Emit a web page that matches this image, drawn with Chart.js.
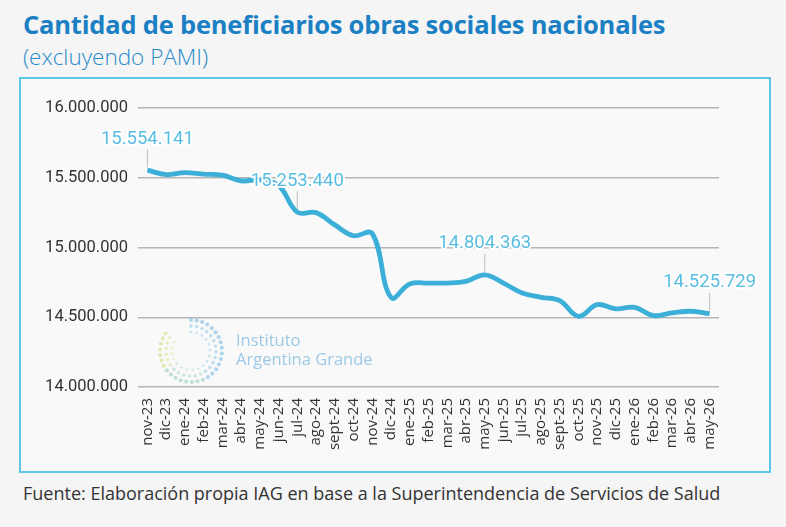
<!DOCTYPE html>
<html>
<head>
<meta charset="utf-8">
<script src="https://cdn.jsdelivr.net/npm/chart.js@4.4.1/dist/chart.umd.min.js"></script>
<style>
  html, body { margin: 0; padding: 0; background: #f5f5f5; }
  body { width: 786px; height: 527px; position: relative; overflow: hidden; font-family: "Open Sans", sans-serif; }
  #title { position: absolute; left: 23px; top: 7px; font-size: 25.5px; font-weight: 700; color: #1b80c3; letter-spacing: -0.2px; white-space: nowrap; }
  #subtitle { position: absolute; left: 23px; top: 41px; font-size: 22.5px; font-weight: 300; color: #2a8bc9; }
  #box { position: absolute; left: 19px; top: 77px; width: 748px; height: 392px; border: 2px solid #5ec7e4; background: #f9f9f9; }
  #source { position: absolute; left: 23px; top: 481px; font-size: 18px; color: #333; white-space: nowrap; }
</style>
</head>
<body>
<div id="title">Cantidad de beneficiarios obras sociales nacionales</div>
<div id="subtitle">(excluyendo PAMI)</div>
<div id="box"><canvas id="c" width="748" height="392"></canvas></div>
<div id="source">Fuente: Elaboración propia IAG en base a la Superintendencia de Servicios de Salud</div>
<script>
// months shown on the x axis
const months = ['nov-23', 'dic-23', 'ene-24', 'feb-24', 'mar-24', 'abr-24', 'may-24', 'jun-24', 'jul-24', 'ago-24',
    'sept-24', 'oct-24', 'nov-24', 'dic-24', 'ene-25', 'feb-25', 'mar-25', 'abr-25', 'may-25', 'jun-25',
    'jul-25', 'ago-25', 'sept-25', 'oct-25', 'nov-25', 'dic-25', 'ene-26', 'feb-26', 'mar-26', 'abr-26', 'may-26'];

// beneficiaries (labelled ones are exact)
const beneficiarios = [15554141, 15523000, 15537000, 15526000, 15519000, 15478000, 15483000, 15445000, 15253440, 15250000,
    15162000, 15084000, 15100000, 14642000, 14738000, 14745000, 14745000, 14757000, 14804363, 14745000,
    14674000, 14643000, 14619000, 14507000, 14590000, 14560000, 14571000, 14512000, 14531000, 14543000, 14525729];

// which points get a value label
const labelledPoints = [0, 8, 18, 30];

const yTicks = [14000000, 14500000, 15000000, 15500000, 16000000];

function fmt(v) {
    return String(Math.round(v)).replace(/\B(?=(\d{3})+(?!\d))/g, '.');
}

// value labels with a little leader line
const valueLabels = {
    id: 'valueLabels',
    afterDatasetsDraw(chart) {
        const ctx = chart.ctx;
        const meta = chart.getDatasetMeta(0);
        ctx.save();
        labelledPoints.forEach(i => {
            const pt = meta.data[i];
            const ty = pt.y - 31;
            ctx.strokeStyle = '#bdbdbd';
            ctx.lineWidth = 1;
            ctx.beginPath();
            ctx.moveTo(pt.x, ty + 10);
            ctx.lineTo(pt.x, pt.y - 3);
            ctx.stroke();
            ctx.font = '18.5px Roboto';
            ctx.textAlign = 'center';
            ctx.textBaseline = 'middle';
            ctx.lineJoin = 'round';
            ctx.lineWidth = 4;
            ctx.strokeStyle = 'rgba(255,255,255,0.95)';
            ctx.strokeText(fmt(beneficiarios[i]), pt.x, ty);
            ctx.fillStyle = '#58bde0';
            ctx.fillText(fmt(beneficiarios[i]), pt.x, ty);
        });
        ctx.restore();
    }
};

// faint IAG watermark behind the line
const watermark = {
    id: 'watermark',
    beforeDatasetsDraw(chart) {
        const ctx = chart.ctx;
        const cx = 170, cy = 272;
        ctx.save();
        for (let ring = 0; ring < 3; ring++) {
            const r = 19 + ring * 6;
            const n = 18 + ring * 6;
            for (let k = 0; k < n; k++) {
                const a = -Math.PI / 2 + (k / n) * Math.PI * 1.75;
                const t = k / n;
                const col = t < 0.5 ? 'rgba(120,185,225,' : (t < 0.75 ? 'rgba(150,205,190,' : 'rgba(215,220,130,');
                ctx.fillStyle = col + (0.35 + 0.25 * ring / 2) + ')';
                ctx.beginPath();
                ctx.arc(cx + r * Math.cos(a), cy + r * Math.sin(a), 1.4 + ring * 0.3, 0, Math.PI * 2);
                ctx.fill();
            }
        }
        ctx.fillStyle = '#9cc9e6';
        ctx.font = '16.5px "Open Sans"';
        ctx.textBaseline = 'middle';
        ctx.fillText('Instituto', 215, 262);
        ctx.fillText('Argentina Grande', 215, 281);
        ctx.restore();
    }
};

new Chart(document.getElementById('c'), {
    type: 'line',
    data: {
        labels: months,
        datasets: [{
            data: beneficiarios,
            borderColor: '#3cafd9',
            borderWidth: 4.8,
            pointRadius: 0,
            tension: 0.4,
            fill: false
        }]
    },
    options: {
        responsive: false,
        animation: false,
        layout: { padding: { top: 29, right: 50, left: 0, bottom: 0 } },
        plugins: { legend: { display: false }, tooltip: { enabled: false } },
        scales: {
            x: {
                offset: true,
                grid: { display: false },
                border: { display: false },
                ticks: {
                    autoSkip: false,
                    maxRotation: 90,
                    minRotation: 90,
                    color: '#333',
                    padding: 3,
                    font: { family: 'Open Sans', size: 15 }
                },
                afterFit(scale) { scale.height = 84; }
            },
            y: {
                min: 14000000,
                max: 16000000,
                afterBuildTicks(scale) { scale.ticks = yTicks.map(v => ({ value: v })); },
                grid: { color: '#b5b5b5', lineWidth: 1.5, drawTicks: false },
                border: { display: false },
                ticks: {
                    color: '#333',
                    padding: 10,
                    font: { family: 'Roboto', size: 16.5 },
                    callback: v => fmt(v)
                },
                afterFit(scale) { scale.width = 117; }
            }
        }
    },
    plugins: [watermark, valueLabels]
});
</script>
</body>
</html>
